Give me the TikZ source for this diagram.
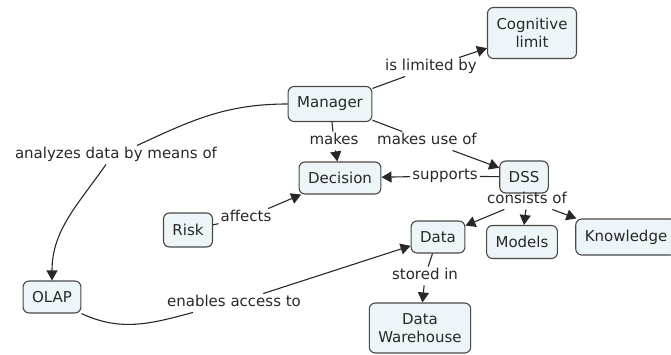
\documentclass[tikz,border=0pt]{standalone}
\usepackage{fontspec}
\setmainfont{DejaVu Sans}
\usepackage{xcolor}
\definecolor{conceptfill}{RGB}{238,245,248}
\definecolor{conceptline}{RGB}{72,72,72}
\definecolor{inkgray}{RGB}{40,40,40}
\usetikzlibrary{arrows.meta}

\begin{document}
\begin{tikzpicture}[x=1pt, y=1pt,
  concept/.style={rectangle, draw=conceptline, fill=conceptfill, line width=1.1pt, rounded corners=6pt, inner xsep=9pt, inner ysep=0pt, minimum height=#1, align=center, text=inkgray, font=\fontsize{15}{18}\selectfont},
  concept/.default=32pt,
  phrase/.style={inner xsep=2pt, inner ysep=2pt, text height=11pt, text depth=3.5pt, text=inkgray, font=\fontsize{15}{18}\selectfont},
  link/.style={line width=1.1pt, draw=inkgray},
  arr/.style={link, -{Triangle[length=10pt,width=11pt]}}
]
  \useasboundingbox (0,0) rectangle (671,354);

  % concepts
  \node[concept=51pt] (cognitive) at (532,321) {Cognitive\\limit};
  \node[concept=35pt] (manager) at (330,250) {Manager};
  \node[concept] (decision) at (340,176) {Decision};
  \node[concept] (dss) at (524,177) {DSS};
  \node[concept=34pt] (risk) at (188,124) {Risk};
  \node[concept] (data) at (438,117) {Data};
  \node[concept=33pt] (models) at (522,112) {Models};
  \node[concept=36pt] (knowledge) at (626,117) {Knowledge};
  \node[concept] (olap) at (52,57) {OLAP};
  \node[concept=50pt] (warehouse) at (420,26) {Data\\Warehouse};

  % linking phrases
  \node[phrase] (limited) at (431,287) {is limited by};
  \node[phrase] (makes) at (334,213) {makes};
  \node[phrase] (makesuse) at (427,213) {makes use of};
  \node[phrase] (analyzes) at (116,199) {analyzes data by means of};
  \node[phrase] (supports) at (445,178) {supports};
  \node[phrase] (consists) at (527,154) {consists of};
  \node[phrase] (affects) at (246,136) {affects};
  \node[phrase] (stored) at (425,78) {stored in};
  \node[phrase] (enables) at (234,51) {enables access to};

  \draw[link] (manager) -- (limited);
  \draw[arr] (limited) -- (cognitive);
  \draw[link] (manager) -- (makes);
  \draw[arr] (makes) -- (decision);
  \draw[link] (manager) -- (makesuse);
  \draw[arr] (makesuse) -- (dss);
  \draw[link] (dss) -- (supports);
  \draw[arr] (supports) -- (decision);
  \draw[arr] (consists) -- (data);
  \draw[arr] (consists) -- (models);
  \draw[arr] (consists) -- (knowledge);
  \draw[link] (risk) -- (affects);
  \draw[arr] (affects) -- (decision);
  \draw[link] (data) -- (stored);
  \draw[arr] (stored) -- (warehouse);
  \draw[link] (manager.west) to[out=180, in=25] ([xshift=21pt]analyzes.north);
  \draw[arr] ([xshift=-10pt]analyzes.south) to[out=235, in=90] (olap.north);
  \draw[link] (olap.south east) to[out=-25, in=195] ([xshift=-41pt]enables.south);
  \draw[arr] (enables) -- (data);
\end{tikzpicture}
\end{document}
